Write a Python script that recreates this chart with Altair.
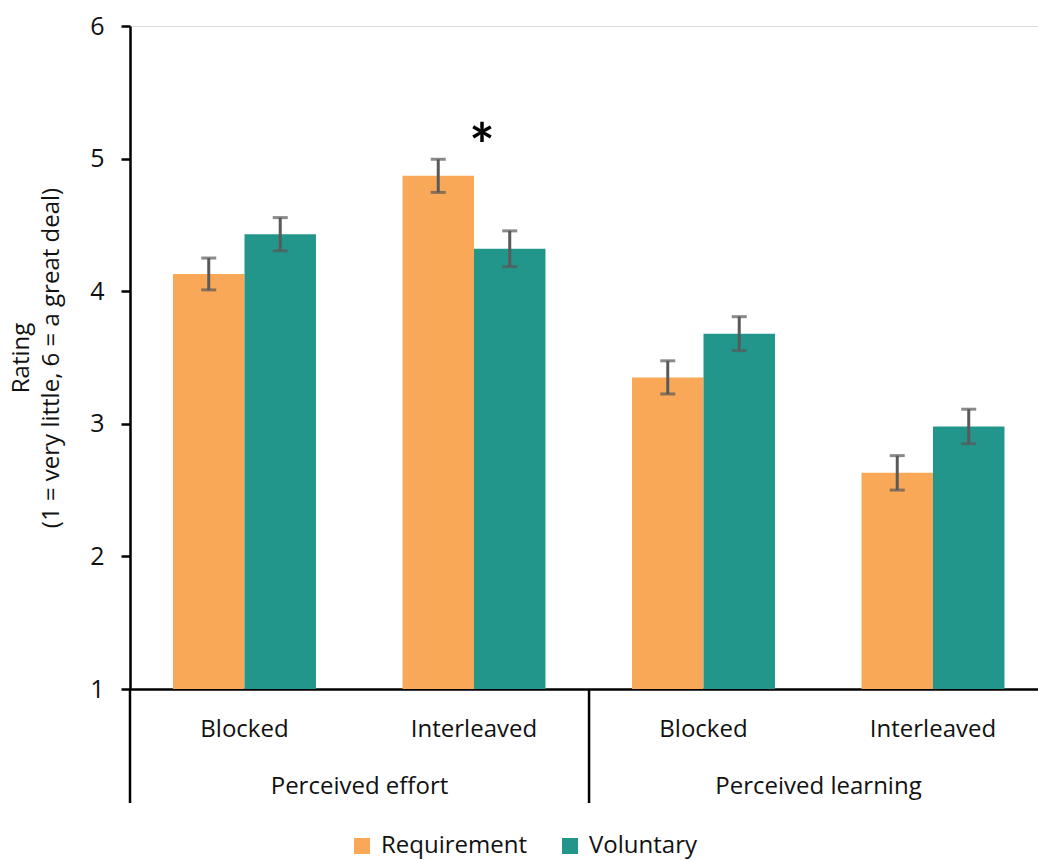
import altair as alt
import pandas as pd

# ---- data ----
groups = ["Perceived effort", "Perceived effort", "Perceived learning", "Perceived learning"]
conditions = ["Blocked", "Interleaved", "Blocked", "Interleaved"]
series = ["Requirement", "Voluntary"]
requirement = [4.13, 4.87, 3.35, 2.63]
voluntary = [4.43, 4.32, 3.68, 2.98]
requirement_err = [0.12, 0.125, 0.125, 0.13]
voluntary_err = [0.125, 0.135, 0.128, 0.13]
group_names = ["Perceived effort", "Perceived learning"]
star_key = "Perceived effort|Interleaved"
star_value = 5.07

ORANGE = "#F9A857"
TEAL = "#22968A"
FONT = "Open Sans"
FS = 24

keys = [g + "|" + c for g, c in zip(groups, conditions)]
rows = []
for i, k in enumerate(keys):
    rows.append(dict(key=k, series="Requirement", value=requirement[i], err=requirement_err[i]))
    rows.append(dict(key=k, series="Voluntary", value=voluntary[i], err=voluntary_err[i]))
df = pd.DataFrame(rows)
df["lo"] = df["value"] - df["err"]
df["hi"] = df["value"] + df["err"]

W, H = 908, 663

xscale = alt.Scale(domain=keys, paddingInner=0.377, paddingOuter=0.1667, align=0.562)
x_enc = alt.X("key:N", sort=keys, scale=xscale,
              axis=alt.Axis(title=None, labelExpr="split(datum.label, '|')[1]",
                            labelAngle=0, ticks=False, labelPadding=28,
                            labelFontSize=FS, labelFont=FONT, labelColor="#111",
                            domainColor="black", domainWidth=2.5))
x_plain = alt.X("key:N", sort=keys, scale=xscale)
xoff = alt.XOffset("series:N", scale=alt.Scale(domain=series, paddingInner=0, paddingOuter=0))
yscale = alt.Scale(domain=[1, 6], nice=False, zero=False)

base = alt.Chart(df)

bars = base.mark_bar().encode(
    x=x_enc,
    xOffset=xoff,
    y=alt.Y("value:Q", scale=yscale,
            axis=alt.Axis(values=[1, 2, 3, 4, 5, 6], format="d", grid=False,
                          tickSize=9, tickWidth=2.5,
                          tickColor="black", domainColor="black", domainWidth=2.5,
                          labelFontSize=25, labelFont=FONT, labelColor="#111",
                          labelPadding=17,
                          title=["Rating", "(1 = very little, 6 = a great deal)"],
                          titleFontSize=FS, titleFont=FONT, titleFontWeight="normal",
                          titleColor="#111", titlePadding=26, titleLineHeight=30)),
    y2=alt.Y2(datum=1),
    color=alt.Color("series:N", scale=alt.Scale(domain=series, range=[ORANGE, TEAL]),
                    legend=alt.Legend(title=None, orient="none", direction="horizontal",
                                      legendX=220, legendY=808, symbolType="square",
                                      symbolSize=256, symbolStrokeWidth=0,
                                      labelFontSize=FS, labelFont=FONT, labelColor="#111",
                                      labelOffset=7, columnPadding=30, symbolOffset=0)),
)

err_rule = base.mark_rule(color="#595959", strokeWidth=3).encode(
    x=x_plain, xOffset=xoff,
    y=alt.Y("lo:Q", scale=yscale), y2="hi:Q")
cap_lo = base.mark_tick(color="#595959", thickness=3, size=15).encode(
    x=x_plain, xOffset=xoff, y=alt.Y("lo:Q", scale=yscale))
cap_hi = base.mark_tick(color="#595959", thickness=3, size=15).encode(
    x=x_plain, xOffset=xoff, y=alt.Y("hi:Q", scale=yscale))

star_df = pd.DataFrame({"key": [star_key], "value": [star_value], "label": ["*"]})
star = alt.Chart(star_df).mark_text(fontSize=60, fontWeight="bold", font="Lato", dx=8,
                                    baseline="middle", color="black").encode(
    x=x_plain, y=alt.Y("value:Q", scale=yscale), text="label:N")

grp_df = pd.DataFrame({"key": [keys[0], keys[2]], "label": [groups[0], groups[2]]})
grp_text = alt.Chart(grp_df).mark_text(fontSize=FS, font=FONT, dx=115, baseline="middle",
                                       color="#111").encode(
    x=x_plain, y=alt.value(H + 98), text="label:N")

one_df = pd.DataFrame({"group": [group_names[1]]})
yext = alt.Chart(one_df).mark_rule(color="black", strokeWidth=2.5).encode(
    x=alt.value(0), y=alt.value(H), y2=alt.value(H + 114))

inner = alt.layer(bars, err_rule, cap_lo, cap_hi, star, grp_text, yext)

sep = alt.Chart(one_df).mark_rule(color="black", strokeWidth=2.5).encode(
    x=alt.X("group:N", scale=alt.Scale(domain=group_names, paddingInner=0.022, paddingOuter=0),
            bandPosition=0, axis=None),
    y=alt.value(H), y2=alt.value(H + 114))

chart = alt.layer(inner, sep).resolve_scale(x="independent").properties(
    width=W, height=H,
    autosize=alt.AutoSizeParams(type="none"),
    padding={"left": 130, "top": 26, "right": 0, "bottom": 860 - 26 - H},
).configure_view(stroke=None).configure(background="white")

chart.save("out.html", embed_options={"renderer": "svg", "actions": False})
